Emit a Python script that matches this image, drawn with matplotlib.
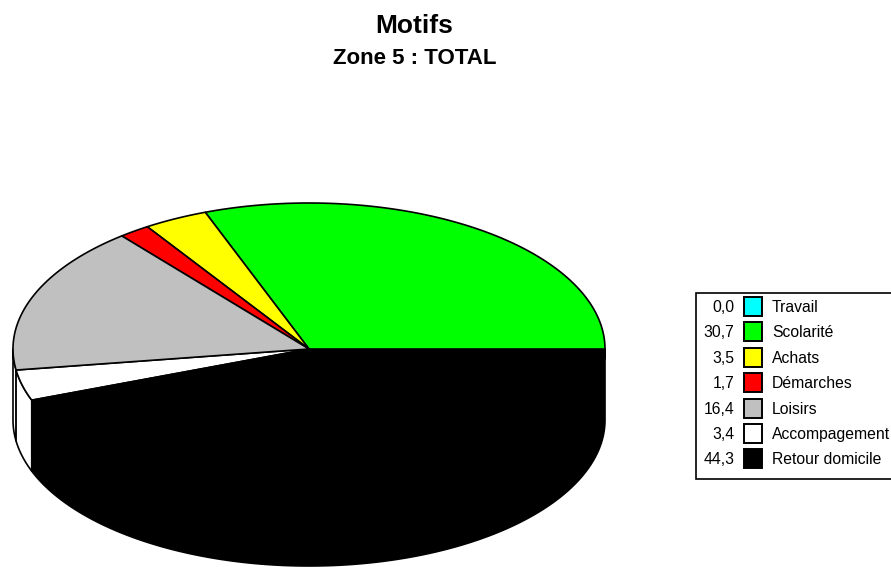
import numpy as np
import matplotlib
matplotlib.use("Agg")
from matplotlib import pyplot as plt
from matplotlib.patches import Rectangle

labels = ["Travail", "Scolarité", "Achats", "Démarches", "Loisirs", "Accompagement", "Retour domicile"]
values = [0.0, 30.7, 3.5, 1.7, 16.4, 3.4, 44.3]
value_labels = ["0,0", "30,7", "3,5", "1,7", "16,4", "3,4", "44,3"]
colors = ["#00ffff", "#00ff00", "#ffff00", "#ff0000", "#c0c0c0", "#ffffff", "#000000"]

# pie geometry in pixels
cx, cy = 309, 349
rx, ry = 296, 146
depth = 71
lw = 1.2

plt.rcParams["font.family"] = ["Liberation Sans", "DejaVu Sans"]

fig = plt.figure(figsize=(8.91, 5.67), dpi=100)
ax = fig.add_axes([0, 0, 1, 1])
ax.set_xlim(0, 891)
ax.set_ylim(567, 0)
ax.axis("off")


def arc(a1, a2, shift=0):
    t = np.radians(np.linspace(a1, a2, 200))
    return cx + rx * np.cos(t), cy - ry * np.sin(t) + shift


edges = np.concatenate([[0], np.cumsum(values)]) / sum(values) * 360

# side wall, only the front half can be seen
for i in range(len(values)):
    a1 = max(edges[i], 180)
    a2 = edges[i + 1]
    if a2 <= a1:
        continue
    x1, y1 = arc(a1, a2)
    x2, y2 = arc(a2, a1, depth)
    wall = colors[i] if colors[i] != "#c0c0c0" else "#ffffff"
    ax.fill(np.r_[x1, x2], np.r_[y1, y2], facecolor=wall, edgecolor="black", lw=lw, joinstyle="round")

# top of the pie
for i in [5, 6, 1, 2, 3, 4]:
    x, y = arc(edges[i], edges[i + 1])
    ax.fill(np.r_[cx, x], np.r_[cy, y], facecolor=colors[i], edgecolor="black", lw=lw, joinstyle="round")

# legend, runs off the right side like the original
ax.add_patch(Rectangle((695.5, 292.5), 210, 186, facecolor="white", edgecolor="black", lw=lw))
for i in range(len(labels)):
    y = 306.5 + i * 25.4
    ax.add_patch(Rectangle((743.5, y - 9.5), 18.5, 19, facecolor=colors[i], edgecolor="black", lw=lw + 0.2))
    ax.text(734.5, y + 5.5, value_labels[i], ha="right", va="baseline", fontsize=11.3)
    ax.text(772, y + 5.5, labels[i], ha="left", va="baseline", fontsize=11.3)

ax.text(414, 33.3, "Motifs", ha="center", va="baseline", fontsize=19, fontweight="bold")
ax.text(414.5, 64.3, "Zone 5 : TOTAL", ha="center", va="baseline", fontsize=16, fontweight="bold")

fig.savefig("out.png", dpi=100)
